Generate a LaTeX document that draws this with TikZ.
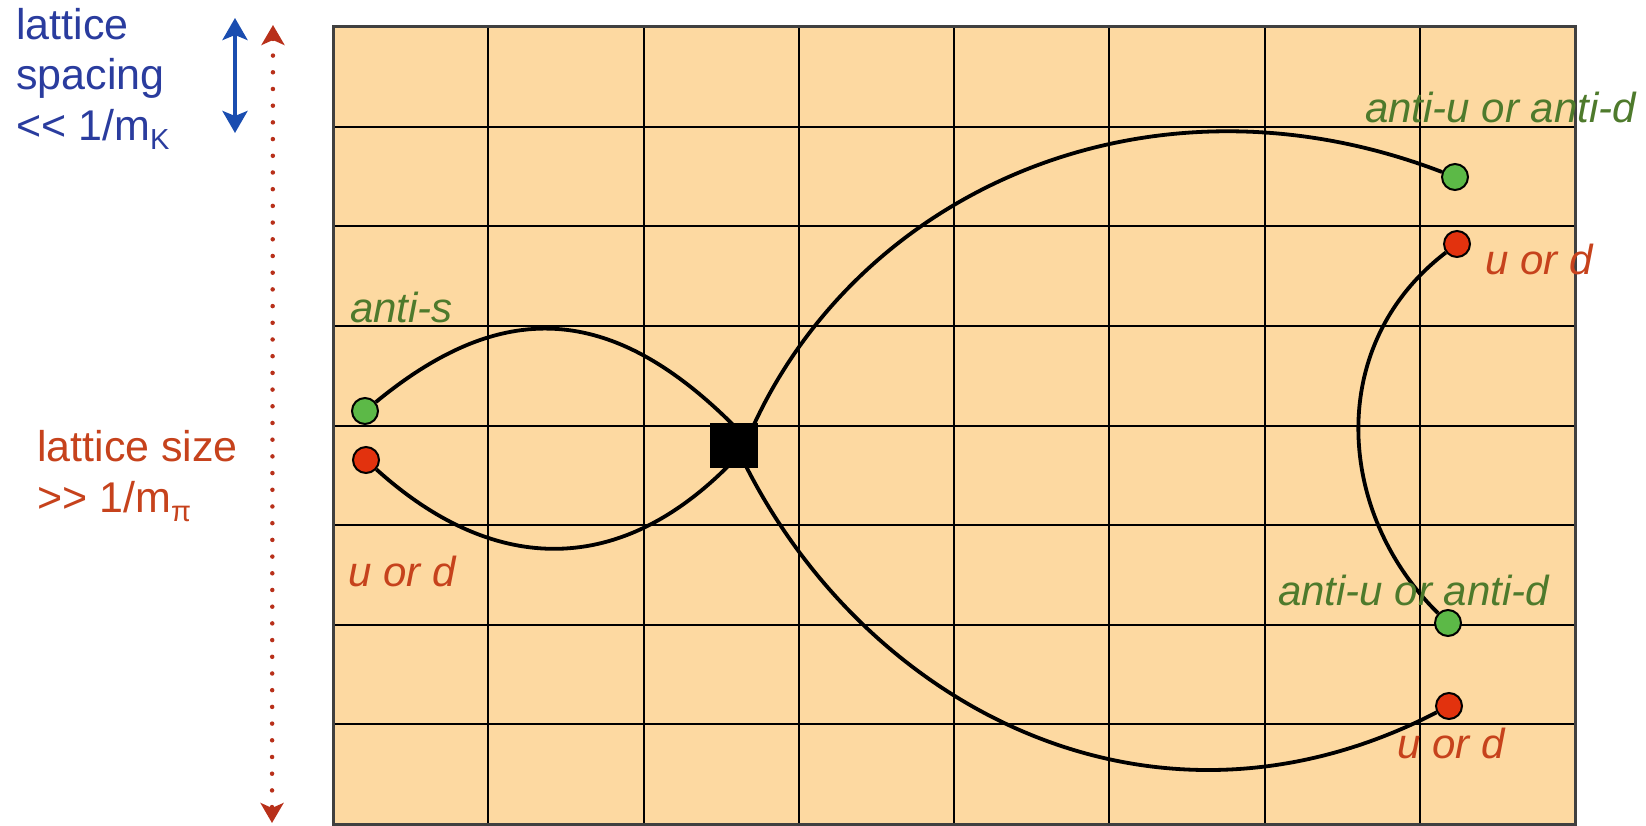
\documentclass[tikz,border=0pt]{standalone}
\usepackage{fontspec}
\setmainfont{Liberation Sans}
\usetikzlibrary{arrows.meta,calc}
\definecolor{gridfill}{HTML}{FDD9A1}
\definecolor{dotgreen}{HTML}{5CB947}
\definecolor{dotred}{HTML}{E2320E}
\definecolor{txtgreen}{HTML}{4E7A2C}
\definecolor{txtred}{HTML}{C6421C}
\definecolor{txtblue}{HTML}{2A3C9E}
\definecolor{arrblue}{HTML}{1A4DB0}
\definecolor{arrred}{HTML}{B8301A}
\tikzset{
  gridline/.style={draw=black, line width=2pt},
  border/.style={draw=black!75, line width=3pt},
  gdot/.style={circle, draw=black, line width=2pt, fill=dotgreen, minimum size=26pt, inner sep=0pt},
  rdot/.style={circle, draw=black, line width=2pt, fill=dotred, minimum size=26pt, inner sep=0pt},
  vertex/.style={fill=black, minimum width=48pt, minimum height=45pt, inner sep=0pt},
  quark/.style={draw=black, line width=3.8pt},
  lbl/.style={inner sep=0pt, anchor=base west, font=\fontsize{42}{50}\selectfont\itshape},
  sidelbl/.style={inner sep=0pt, anchor=base west, font=\fontsize{43}{50}\selectfont}
}
\newcommand{\subtxt}[1]{\raisebox{-9pt}{\fontsize{29}{29}\selectfont #1}}
\begin{document}
\begin{tikzpicture}[x=1pt,y=-1pt]
\useasboundingbox (0,0) rectangle (1646,826);
% lattice
\fill[gridfill] (333,27) rectangle (1575,824);
\foreach \i in {1,...,7} \draw[gridline] ({333+155.25*\i},27) -- ({333+155.25*\i},824);
\foreach \j in {1,...,7} \draw[gridline] (333,{27+99.625*\j}) -- (1575,{27+99.625*\j});
\draw[border] (333,27) rectangle (1575,824);
% quarks
\node[gdot] (gL) at (365,411) {};
\node[rdot] (rL) at (366,460) {};
\node[gdot] (gTR) at (1455,177) {};
\node[rdot] (rTR) at (1457,244) {};
\node[gdot] (gBR) at (1448,623) {};
\node[rdot] (rBR) at (1449,706) {};
\node[vertex] (sq) at (734,445.5) {};
% propagators (end points lie inside the black square)
\draw[quark] (gL) .. controls (500,300) and (610,300) .. ($(sq.north)+(3,6)$);
\draw[quark] (rL) .. controls (490,572) and (615,580) .. ($(sq.south)+(-5,-3)$);
\draw[quark] ($(sq.north)+(18,6)$) .. controls (860,190) and (1150,60) .. (gTR);
\draw[quark] ($(sq.south)+(10,-6)$) .. controls (865,705) and (1150,860) .. (rBR);
\draw[quark] (rTR) .. controls (1325,345) and (1336,513) .. (gBR);
% labels in lattice
\node[lbl, text=txtgreen] (ls) at (350,322) {anti-s};
\node[lbl, text=txtred] (lud1) at (348,586) {u or d};
\node[lbl, text=txtgreen] (lad1) at (1365,123) {anti-u or anti-d};
\node[lbl, text=txtred] (lud2) at (1485,275) {u or d};
\node[lbl, text=txtgreen] (lad2) at (1278,605) {anti-u or anti-d};
\node[lbl, text=txtred] (lud3) at (1397,758) {u or d};
% side labels
\node[sidelbl, text=txtblue] (b1) at (16,40) {lattice};
\node[sidelbl, text=txtblue] (b2) at (16,90) {spacing};
\node[sidelbl, text=txtblue] (b3) at (16,141) {{<}{<} 1/m\subtxt{K}};
\node[sidelbl, text=txtred] (r1) at (37,461) {lattice size};
\node[sidelbl, text=txtred] (r2) at (37,512) {{>}{>} 1/m\subtxt{π}};
% arrows
\coordinate (bt) at (235,18);
\coordinate (bb) at (235,133);
\draw[arrblue, line width=4pt, {Stealth[length=22pt,width=25pt,inset=5pt]}-{Stealth[length=22pt,width=25pt,inset=5pt]}] (bt) -- (bb);
\coordinate (rt) at (273,25);
\coordinate (rb) at (272,823);
\draw[arrred, line width=4.5pt, line cap=round, dash pattern=on 0pt off 16.7pt, {Stealth[length=20pt,width=23pt,inset=5pt]}-{Stealth[length=20pt,width=23pt,inset=5pt]}] (rt) -- (rb);
\end{tikzpicture}
\end{document}
